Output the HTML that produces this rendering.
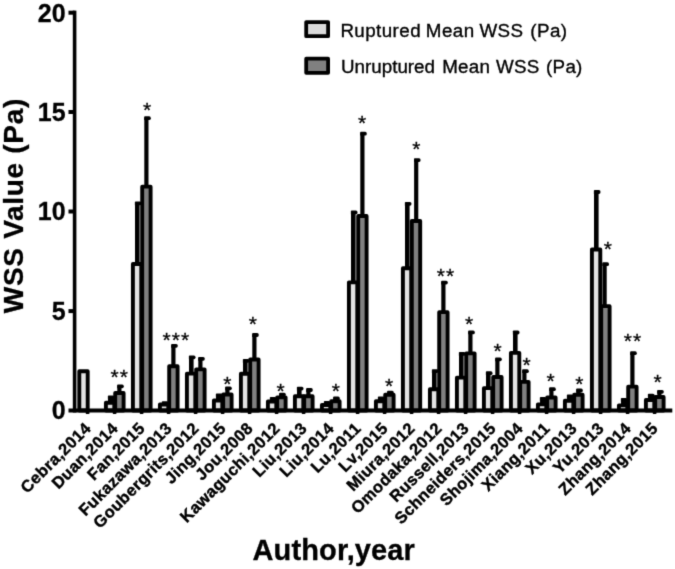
<!DOCTYPE html>
<html lang="en"><head><meta charset="utf-8"><title>WSS Value by Author,year</title>
<style>
html,body{margin:0;padding:0;background:#fff;}
body{width:675px;height:569px;overflow:hidden;font-family:"Liberation Sans",sans-serif;}
svg{display:block;}
</style></head><body>
<svg width="675" height="569" viewBox="0 0 675 569">
<defs><filter id="soft" filterUnits="userSpaceOnUse" x="0" y="0" width="675" height="569" color-interpolation-filters="sRGB"><feColorMatrix type="saturate" values="0" result="g"/><feConvolveMatrix in="g" order="3" divisor="1" edgeMode="duplicate" preserveAlpha="true" kernelMatrix="0.0169 0.0962 0.0169 0.0962 0.5476 0.0962 0.0169 0.0962 0.0169"/></filter></defs>
<g filter="url(#soft)">
<rect width="675" height="569" fill="#fff"/>
<g id="bars" stroke="#000" stroke-width="3.90" stroke-linejoin="round">
<rect x="79.30" y="371.25" width="8.40" height="39.25" fill="#e3e3e3"/>
<rect x="108.00" y="396.40" width="6.4" height="7.40" fill="#000" stroke="none"/><path d="M107.90 399.20 V396.00 Q107.90 395.40 108.70 395.40 H112.90 Q114.50 395.40 114.50 397.30 Q114.50 399.20 112.90 399.20 Z" fill="#000" stroke="none"/>
<rect x="105.90" y="402.75" width="8.40" height="7.75" fill="#e3e3e3"/>
<rect x="117.30" y="385.40" width="4.2" height="8.60" fill="#000" stroke="none"/><path d="M117.20 388.20 V385.00 Q117.20 384.40 118.00 384.40 H122.20 Q123.80 384.40 123.80 386.30 Q123.80 388.20 122.20 388.20 Z" fill="#000" stroke="none"/>
<rect x="115.20" y="392.95" width="8.40" height="17.55" fill="#808080"/>
<rect x="135.00" y="202.50" width="4.6" height="62.50" fill="#000" stroke="none"/><path d="M134.90 205.30 V202.10 Q134.90 201.50 135.70 201.50 H139.90 Q141.50 201.50 141.50 203.40 Q141.50 205.30 139.90 205.30 Z" fill="#000" stroke="none"/>
<rect x="132.90" y="263.95" width="8.40" height="146.55" fill="#e3e3e3"/>
<rect x="144.30" y="117.30" width="4.2" height="70.40" fill="#000" stroke="none"/><path d="M144.20 120.10 V116.90 Q144.20 116.30 145.00 116.30 H149.20 Q150.80 116.30 150.80 118.20 Q150.80 120.10 149.20 120.10 Z" fill="#000" stroke="none"/>
<rect x="142.20" y="186.65" width="8.40" height="223.85" fill="#808080"/>
<rect x="162.00" y="402.20" width="6.4" height="3.40" fill="#000" stroke="none"/><path d="M161.90 405.00 V401.80 Q161.90 401.20 162.70 401.20 H166.90 Q168.50 401.20 168.50 403.10 Q168.50 405.00 166.90 405.00 Z" fill="#000" stroke="none"/>
<rect x="159.90" y="404.55" width="8.40" height="5.95" fill="#e3e3e3"/>
<rect x="171.30" y="344.90" width="4.2" height="22.40" fill="#000" stroke="none"/><path d="M171.20 347.70 V344.50 Q171.20 343.90 172.00 343.90 H176.20 Q177.80 343.90 177.80 345.80 Q177.80 347.70 176.20 347.70 Z" fill="#000" stroke="none"/>
<rect x="169.20" y="366.25" width="8.40" height="44.25" fill="#808080"/>
<rect x="189.00" y="356.40" width="4.6" height="18.30" fill="#000" stroke="none"/><path d="M188.90 359.20 V356.00 Q188.90 355.40 189.70 355.40 H193.90 Q195.50 355.40 195.50 357.30 Q195.50 359.20 193.90 359.20 Z" fill="#000" stroke="none"/>
<rect x="186.90" y="373.65" width="8.40" height="36.85" fill="#e3e3e3"/>
<rect x="198.30" y="357.90" width="4.2" height="12.50" fill="#000" stroke="none"/><path d="M198.20 360.70 V357.50 Q198.20 356.90 199.00 356.90 H203.20 Q204.80 356.90 204.80 358.80 Q204.80 360.70 203.20 360.70 Z" fill="#000" stroke="none"/>
<rect x="196.20" y="369.35" width="8.40" height="41.15" fill="#808080"/>
<rect x="216.00" y="394.40" width="6.4" height="7.10" fill="#000" stroke="none"/><path d="M215.90 397.20 V394.00 Q215.90 393.40 216.70 393.40 H220.90 Q222.50 393.40 222.50 395.30 Q222.50 397.20 220.90 397.20 Z" fill="#000" stroke="none"/>
<rect x="213.90" y="400.45" width="8.40" height="10.05" fill="#e3e3e3"/>
<rect x="225.30" y="387.40" width="4.2" height="8.20" fill="#000" stroke="none"/><path d="M225.20 390.20 V387.00 Q225.20 386.40 226.00 386.40 H230.20 Q231.80 386.40 231.80 388.30 Q231.80 390.20 230.20 390.20 Z" fill="#000" stroke="none"/>
<rect x="223.20" y="394.55" width="8.40" height="15.95" fill="#808080"/>
<rect x="243.00" y="359.90" width="4.6" height="14.90" fill="#000" stroke="none"/><path d="M242.90 362.70 V359.50 Q242.90 358.90 243.70 358.90 H247.90 Q249.50 358.90 249.50 360.80 Q249.50 362.70 247.90 362.70 Z" fill="#000" stroke="none"/>
<rect x="240.90" y="373.75" width="8.40" height="36.75" fill="#e3e3e3"/>
<rect x="252.30" y="334.10" width="4.2" height="26.50" fill="#000" stroke="none"/><path d="M252.20 336.90 V333.70 Q252.20 333.10 253.00 333.10 H257.20 Q258.80 333.10 258.80 335.00 Q258.80 336.90 257.20 336.90 Z" fill="#000" stroke="none"/>
<rect x="250.20" y="359.55" width="8.40" height="50.95" fill="#808080"/>
<rect x="270.00" y="397.90" width="6.4" height="4.60" fill="#000" stroke="none"/><path d="M269.90 400.70 V397.50 Q269.90 396.90 270.70 396.90 H274.90 Q276.50 396.90 276.50 398.80 Q276.50 400.70 274.90 400.70 Z" fill="#000" stroke="none"/>
<rect x="267.90" y="401.45" width="8.40" height="9.05" fill="#e3e3e3"/>
<rect x="279.30" y="393.70" width="4.2" height="4.70" fill="#000" stroke="none"/><path d="M279.20 396.50 V393.30 Q279.20 392.70 280.00 392.70 H284.20 Q285.80 392.70 285.80 394.60 Q285.80 396.50 284.20 396.50 Z" fill="#000" stroke="none"/>
<rect x="277.20" y="397.35" width="8.40" height="13.15" fill="#808080"/>
<rect x="297.00" y="387.70" width="4.6" height="9.60" fill="#000" stroke="none"/><path d="M296.90 390.50 V387.30 Q296.90 386.70 297.70 386.70 H301.90 Q303.50 386.70 303.50 388.60 Q303.50 390.50 301.90 390.50 Z" fill="#000" stroke="none"/>
<rect x="294.90" y="396.25" width="8.40" height="14.25" fill="#e3e3e3"/>
<rect x="306.30" y="389.10" width="4.2" height="8.20" fill="#000" stroke="none"/><path d="M306.20 391.90 V388.70 Q306.20 388.10 307.00 388.10 H311.20 Q312.80 388.10 312.80 390.00 Q312.80 391.90 311.20 391.90 Z" fill="#000" stroke="none"/>
<rect x="304.20" y="396.25" width="8.40" height="14.25" fill="#808080"/>
<rect x="324.00" y="402.10" width="6.4" height="4.00" fill="#000" stroke="none"/><path d="M323.90 404.90 V401.70 Q323.90 401.10 324.70 401.10 H328.90 Q330.50 401.10 330.50 403.00 Q330.50 404.90 328.90 404.90 Z" fill="#000" stroke="none"/>
<rect x="321.90" y="405.05" width="8.40" height="5.45" fill="#e3e3e3"/>
<rect x="333.30" y="397.60" width="4.2" height="4.70" fill="#000" stroke="none"/><path d="M333.20 400.40 V397.20 Q333.20 396.60 334.00 396.60 H338.20 Q339.80 396.60 339.80 398.50 Q339.80 400.40 338.20 400.40 Z" fill="#000" stroke="none"/>
<rect x="331.20" y="401.25" width="8.40" height="9.25" fill="#808080"/>
<rect x="351.00" y="211.50" width="4.6" height="71.90" fill="#000" stroke="none"/><path d="M350.90 214.30 V211.10 Q350.90 210.50 351.70 210.50 H355.90 Q357.50 210.50 357.50 212.40 Q357.50 214.30 355.90 214.30 Z" fill="#000" stroke="none"/>
<rect x="348.90" y="282.35" width="8.40" height="128.15" fill="#e3e3e3"/>
<rect x="360.30" y="132.80" width="4.2" height="84.20" fill="#000" stroke="none"/><path d="M360.20 135.60 V132.40 Q360.20 131.80 361.00 131.80 H365.20 Q366.80 131.80 366.80 133.70 Q366.80 135.60 365.20 135.60 Z" fill="#000" stroke="none"/>
<rect x="358.20" y="215.95" width="8.40" height="194.55" fill="#808080"/>
<rect x="378.00" y="397.50" width="6.4" height="4.80" fill="#000" stroke="none"/><path d="M377.90 400.30 V397.10 Q377.90 396.50 378.70 396.50 H382.90 Q384.50 396.50 384.50 398.40 Q384.50 400.30 382.90 400.30 Z" fill="#000" stroke="none"/>
<rect x="375.90" y="401.25" width="8.40" height="9.25" fill="#e3e3e3"/>
<rect x="387.30" y="391.80" width="4.2" height="4.00" fill="#000" stroke="none"/><path d="M387.20 394.60 V391.40 Q387.20 390.80 388.00 390.80 H392.20 Q393.80 390.80 393.80 392.70 Q393.80 394.60 392.20 394.60 Z" fill="#000" stroke="none"/>
<rect x="385.20" y="394.75" width="8.40" height="15.75" fill="#808080"/>
<rect x="405.00" y="202.90" width="4.6" height="66.40" fill="#000" stroke="none"/><path d="M404.90 205.70 V202.50 Q404.90 201.90 405.70 201.90 H409.90 Q411.50 201.90 411.50 203.80 Q411.50 205.70 409.90 205.70 Z" fill="#000" stroke="none"/>
<rect x="402.90" y="268.25" width="8.40" height="142.25" fill="#e3e3e3"/>
<rect x="414.10" y="159.20" width="4.2" height="62.80" fill="#000" stroke="none"/><path d="M414.00 162.00 V158.80 Q414.00 158.20 414.80 158.20 H419.00 Q420.60 158.20 420.60 160.10 Q420.60 162.00 419.00 162.00 Z" fill="#000" stroke="none"/>
<rect x="411.80" y="220.95" width="8.40" height="189.55" fill="#808080"/>
<rect x="432.00" y="370.20" width="4.6" height="20.10" fill="#000" stroke="none"/><path d="M431.90 373.00 V369.80 Q431.90 369.20 432.70 369.20 H436.90 Q438.50 369.20 438.50 371.10 Q438.50 373.00 436.90 373.00 Z" fill="#000" stroke="none"/>
<rect x="429.90" y="389.25" width="8.40" height="21.25" fill="#e3e3e3"/>
<rect x="441.30" y="281.70" width="4.2" height="31.50" fill="#000" stroke="none"/><path d="M441.20 284.50 V281.30 Q441.20 280.70 442.00 280.70 H446.20 Q447.80 280.70 447.80 282.60 Q447.80 284.50 446.20 284.50 Z" fill="#000" stroke="none"/>
<rect x="439.20" y="312.15" width="8.40" height="98.35" fill="#808080"/>
<rect x="459.00" y="353.00" width="4.6" height="25.70" fill="#000" stroke="none"/><path d="M458.90 355.80 V352.60 Q458.90 352.00 459.70 352.00 H463.90 Q465.50 352.00 465.50 353.90 Q465.50 355.80 463.90 355.80 Z" fill="#000" stroke="none"/>
<rect x="456.90" y="377.65" width="8.40" height="32.85" fill="#e3e3e3"/>
<rect x="468.30" y="331.50" width="4.2" height="22.90" fill="#000" stroke="none"/><path d="M468.20 334.30 V331.10 Q468.20 330.50 469.00 330.50 H473.20 Q474.80 330.50 474.80 332.40 Q474.80 334.30 473.20 334.30 Z" fill="#000" stroke="none"/>
<rect x="466.20" y="353.35" width="8.40" height="57.15" fill="#808080"/>
<rect x="486.00" y="372.30" width="4.6" height="16.90" fill="#000" stroke="none"/><path d="M485.90 375.10 V371.90 Q485.90 371.30 486.70 371.30 H490.90 Q492.50 371.30 492.50 373.20 Q492.50 375.10 490.90 375.10 Z" fill="#000" stroke="none"/>
<rect x="483.90" y="388.15" width="8.40" height="22.35" fill="#e3e3e3"/>
<rect x="495.30" y="358.40" width="4.2" height="19.70" fill="#000" stroke="none"/><path d="M495.20 361.20 V358.00 Q495.20 357.40 496.00 357.40 H500.20 Q501.80 357.40 501.80 359.30 Q501.80 361.20 500.20 361.20 Z" fill="#000" stroke="none"/>
<rect x="493.20" y="377.05" width="8.40" height="33.45" fill="#808080"/>
<rect x="513.00" y="331.60" width="4.6" height="22.30" fill="#000" stroke="none"/><path d="M512.90 334.40 V331.20 Q512.90 330.60 513.70 330.60 H517.90 Q519.50 330.60 519.50 332.50 Q519.50 334.40 517.90 334.40 Z" fill="#000" stroke="none"/>
<rect x="510.90" y="352.85" width="8.40" height="57.65" fill="#e3e3e3"/>
<rect x="522.30" y="370.30" width="4.2" height="12.60" fill="#000" stroke="none"/><path d="M522.20 373.10 V369.90 Q522.20 369.30 523.00 369.30 H527.20 Q528.80 369.30 528.80 371.20 Q528.80 373.10 527.20 373.10 Z" fill="#000" stroke="none"/>
<rect x="520.20" y="381.85" width="8.40" height="28.65" fill="#808080"/>
<rect x="540.00" y="398.10" width="6.4" height="7.30" fill="#000" stroke="none"/><path d="M539.90 400.90 V397.70 Q539.90 397.10 540.70 397.10 H544.90 Q546.50 397.10 546.50 399.00 Q546.50 400.90 544.90 400.90 Z" fill="#000" stroke="none"/>
<rect x="537.90" y="404.35" width="8.40" height="6.15" fill="#e3e3e3"/>
<rect x="549.30" y="388.30" width="4.2" height="10.30" fill="#000" stroke="none"/><path d="M549.20 391.10 V387.90 Q549.20 387.30 550.00 387.30 H554.20 Q555.80 387.30 555.80 389.20 Q555.80 391.10 554.20 391.10 Z" fill="#000" stroke="none"/>
<rect x="547.20" y="397.55" width="8.40" height="12.95" fill="#808080"/>
<rect x="567.00" y="395.40" width="6.4" height="6.40" fill="#000" stroke="none"/><path d="M566.90 398.20 V395.00 Q566.90 394.40 567.70 394.40 H571.90 Q573.50 394.40 573.50 396.30 Q573.50 398.20 571.90 398.20 Z" fill="#000" stroke="none"/>
<rect x="564.90" y="400.75" width="8.40" height="9.75" fill="#e3e3e3"/>
<rect x="576.30" y="389.60" width="4.2" height="6.20" fill="#000" stroke="none"/><path d="M576.20 392.40 V389.20 Q576.20 388.60 577.00 388.60 H581.20 Q582.80 388.60 582.80 390.50 Q582.80 392.40 581.20 392.40 Z" fill="#000" stroke="none"/>
<rect x="574.20" y="394.75" width="8.40" height="15.75" fill="#808080"/>
<rect x="594.00" y="191.10" width="4.6" height="59.40" fill="#000" stroke="none"/><path d="M593.90 193.90 V190.70 Q593.90 190.10 594.70 190.10 H598.90 Q600.50 190.10 600.50 192.00 Q600.50 193.90 598.90 193.90 Z" fill="#000" stroke="none"/>
<rect x="591.90" y="249.45" width="8.40" height="161.05" fill="#e3e3e3"/>
<rect x="602.50" y="263.30" width="4.2" height="43.90" fill="#000" stroke="none"/><path d="M602.40 266.10 V262.90 Q602.40 262.30 603.20 262.30 H607.40 Q609.00 262.30 609.00 264.20 Q609.00 266.10 607.40 266.10 Z" fill="#000" stroke="none"/>
<rect x="601.20" y="306.15" width="8.40" height="104.35" fill="#808080"/>
<rect x="621.00" y="399.00" width="6.4" height="7.40" fill="#000" stroke="none"/><path d="M620.90 401.80 V398.60 Q620.90 398.00 621.70 398.00 H625.90 Q627.50 398.00 627.50 399.90 Q627.50 401.80 625.90 401.80 Z" fill="#000" stroke="none"/>
<rect x="618.90" y="405.35" width="8.40" height="5.15" fill="#e3e3e3"/>
<rect x="630.30" y="352.30" width="4.2" height="35.40" fill="#000" stroke="none"/><path d="M630.20 355.10 V351.90 Q630.20 351.30 631.00 351.30 H635.20 Q636.80 351.30 636.80 353.20 Q636.80 355.10 635.20 355.10 Z" fill="#000" stroke="none"/>
<rect x="628.20" y="386.65" width="8.40" height="23.85" fill="#808080"/>
<rect x="648.00" y="394.70" width="6.4" height="6.40" fill="#000" stroke="none"/><path d="M647.90 397.50 V394.30 Q647.90 393.70 648.70 393.70 H652.90 Q654.50 393.70 654.50 395.60 Q654.50 397.50 652.90 397.50 Z" fill="#000" stroke="none"/>
<rect x="645.90" y="400.05" width="8.40" height="10.45" fill="#e3e3e3"/>
<rect x="657.30" y="390.90" width="4.2" height="7.10" fill="#000" stroke="none"/><path d="M657.20 393.70 V390.50 Q657.20 389.90 658.00 389.90 H662.20 Q663.80 389.90 663.80 391.80 Q663.80 393.70 662.20 393.70 Z" fill="#000" stroke="none"/>
<rect x="655.20" y="396.95" width="8.40" height="13.55" fill="#808080"/>
</g>
<g id="axes" fill="#000">
<rect x="68.5" y="408.50" width="603.8" height="4.0"/>
<rect x="72.8" y="10.6" width="3.6" height="401.90"/>
<rect x="68.5" y="10.70" width="6" height="4.0"/>
<rect x="68.5" y="110.00" width="6" height="4.0"/>
<rect x="68.5" y="209.50" width="6" height="4.0"/>
<rect x="68.5" y="309.10" width="6" height="4.0"/>
<rect x="85.70" y="410.50" width="3.8" height="3.6" rx="1.2"/>
<rect x="112.70" y="410.50" width="3.8" height="3.6" rx="1.2"/>
<rect x="139.70" y="410.50" width="3.8" height="3.6" rx="1.2"/>
<rect x="166.70" y="410.50" width="3.8" height="3.6" rx="1.2"/>
<rect x="193.70" y="410.50" width="3.8" height="3.6" rx="1.2"/>
<rect x="220.70" y="410.50" width="3.8" height="3.6" rx="1.2"/>
<rect x="247.70" y="410.50" width="3.8" height="3.6" rx="1.2"/>
<rect x="274.70" y="410.50" width="3.8" height="3.6" rx="1.2"/>
<rect x="301.70" y="410.50" width="3.8" height="3.6" rx="1.2"/>
<rect x="328.70" y="410.50" width="3.8" height="3.6" rx="1.2"/>
<rect x="355.70" y="410.50" width="3.8" height="3.6" rx="1.2"/>
<rect x="382.70" y="410.50" width="3.8" height="3.6" rx="1.2"/>
<rect x="409.70" y="410.50" width="3.8" height="3.6" rx="1.2"/>
<rect x="436.70" y="410.50" width="3.8" height="3.6" rx="1.2"/>
<rect x="463.70" y="410.50" width="3.8" height="3.6" rx="1.2"/>
<rect x="490.70" y="410.50" width="3.8" height="3.6" rx="1.2"/>
<rect x="517.70" y="410.50" width="3.8" height="3.6" rx="1.2"/>
<rect x="544.70" y="410.50" width="3.8" height="3.6" rx="1.2"/>
<rect x="571.70" y="410.50" width="3.8" height="3.6" rx="1.2"/>
<rect x="598.70" y="410.50" width="3.8" height="3.6" rx="1.2"/>
<rect x="625.70" y="410.50" width="3.8" height="3.6" rx="1.2"/>
<rect x="652.70" y="410.50" width="3.8" height="3.6" rx="1.2"/>
</g>
<g id="ylab" font-family="'Liberation Sans', sans-serif" font-weight="bold" font-size="25" text-anchor="end" fill="#000" stroke="#000" stroke-width="0.3">
<text x="65.6" y="22.2">20</text>
<text x="65.6" y="121.3">15</text>
<text x="65.6" y="219.9">10</text>
<text x="65.6" y="319.7">5</text>
<text x="65.6" y="419.4">0</text>
</g>
<text transform="translate(23.4,205.6) rotate(-90)" text-anchor="middle" letter-spacing="0.7" font-family="'Liberation Sans', sans-serif" font-weight="bold" font-size="28" fill="#000" stroke="#000" stroke-width="0.3">WSS Value (Pa)</text>
<text x="333.8" y="560.0" text-anchor="middle" letter-spacing="0.12" font-family="'Liberation Sans', sans-serif" font-weight="bold" font-size="29" fill="#000" stroke="#000" stroke-width="0.3">Author,year</text>
<g id="xlab" font-family="'Liberation Sans', sans-serif" font-weight="bold" font-size="16.4" letter-spacing="0.4" text-anchor="end" fill="#000" stroke="#000" stroke-width="0.4">
<text transform="translate(91.90,429.3) rotate(-45)">Cebra,2014</text>
<text transform="translate(118.90,429.3) rotate(-45)">Duan,2014</text>
<text transform="translate(145.90,429.3) rotate(-45)">Fan,2015</text>
<text transform="translate(172.90,429.3) rotate(-45)">Fukazawa,2013</text>
<text transform="translate(199.90,429.3) rotate(-45)">Goubergrits,2012</text>
<text transform="translate(226.90,429.3) rotate(-45)">Jing,2015</text>
<text transform="translate(253.90,429.3) rotate(-45)">Jou,2008</text>
<text transform="translate(280.90,429.3) rotate(-45)">Kawaguchi,2012</text>
<text transform="translate(307.90,429.3) rotate(-45)">Liu,2013</text>
<text transform="translate(334.90,429.3) rotate(-45)">Liu,2014</text>
<text transform="translate(361.90,429.3) rotate(-45)">Lu,2011</text>
<text transform="translate(388.90,429.3) rotate(-45)">Lv,2015</text>
<text transform="translate(415.90,429.3) rotate(-45)">Miura,2012</text>
<text transform="translate(442.90,429.3) rotate(-45)">Omodaka,2012</text>
<text transform="translate(469.90,429.3) rotate(-45)">Russell,2013</text>
<text transform="translate(496.90,429.3) rotate(-45)">Schneiders,2015</text>
<text transform="translate(523.90,429.3) rotate(-45)">Shojima,2004</text>
<text transform="translate(550.90,429.3) rotate(-45)">Xiang,2011</text>
<text transform="translate(577.90,429.3) rotate(-45)">Xu,2013</text>
<text transform="translate(604.90,429.3) rotate(-45)">Yu,2013</text>
<text transform="translate(631.90,429.3) rotate(-45)">Zhang,2014</text>
<text transform="translate(658.90,429.3) rotate(-45)">Zhang,2015</text>
</g>
<g id="stars" font-family="'Liberation Sans', sans-serif" font-size="21" text-anchor="middle" fill="#000" stroke="#000" stroke-width="0.3">
<text x="119.80" y="384.30" letter-spacing="1.0">**</text>
<text x="147.00" y="117.10">*</text>
<text x="176.30" y="346.60" letter-spacing="1.0">***</text>
<text x="227.30" y="391.40">*</text>
<text x="252.80" y="330.80">*</text>
<text x="280.60" y="398.20">*</text>
<text x="335.90" y="398.20">*</text>
<text x="362.10" y="130.30">*</text>
<text x="389.20" y="393.10">*</text>
<text x="416.30" y="155.80">*</text>
<text x="445.90" y="282.90" letter-spacing="1.0">**</text>
<text x="469.10" y="331.00">*</text>
<text x="497.60" y="358.10">*</text>
<text x="526.50" y="372.30">*</text>
<text x="550.60" y="387.70">*</text>
<text x="579.30" y="391.20">*</text>
<text x="607.90" y="256.40">*</text>
<text x="632.90" y="348.00" letter-spacing="1.0">**</text>
<text x="657.70" y="389.30">*</text>
</g>
<g id="legend">
<rect x="306.2" y="22.1" width="21.9" height="14.1" fill="#dadada" stroke="#000" stroke-width="3.8" stroke-linejoin="round"/>
<rect x="306.2" y="58.7" width="21.9" height="14.1" fill="#808080" stroke="#000" stroke-width="3.8" stroke-linejoin="round"/>
<g font-family="'Liberation Sans', sans-serif" font-size="18.8" fill="#000" stroke="#000" stroke-width="0.35">
<text x="340.4" y="37.0" letter-spacing="0.42">Ruptured <tspan dx="-0.8">Mean</tspan> <tspan dx="-0.8">WSS</tspan> <tspan dx="1.2">(Pa)</tspan></text>
<text x="340.9" y="73.1" letter-spacing="0.27"><tspan letter-spacing="0.02">Unruptured </tspan><tspan dx="1.9">Mean</tspan> <tspan dx="0.2">WSS</tspan> <tspan dx="1.0">(Pa)</tspan></text>
</g></g>
</g>
</svg>
</body></html>
